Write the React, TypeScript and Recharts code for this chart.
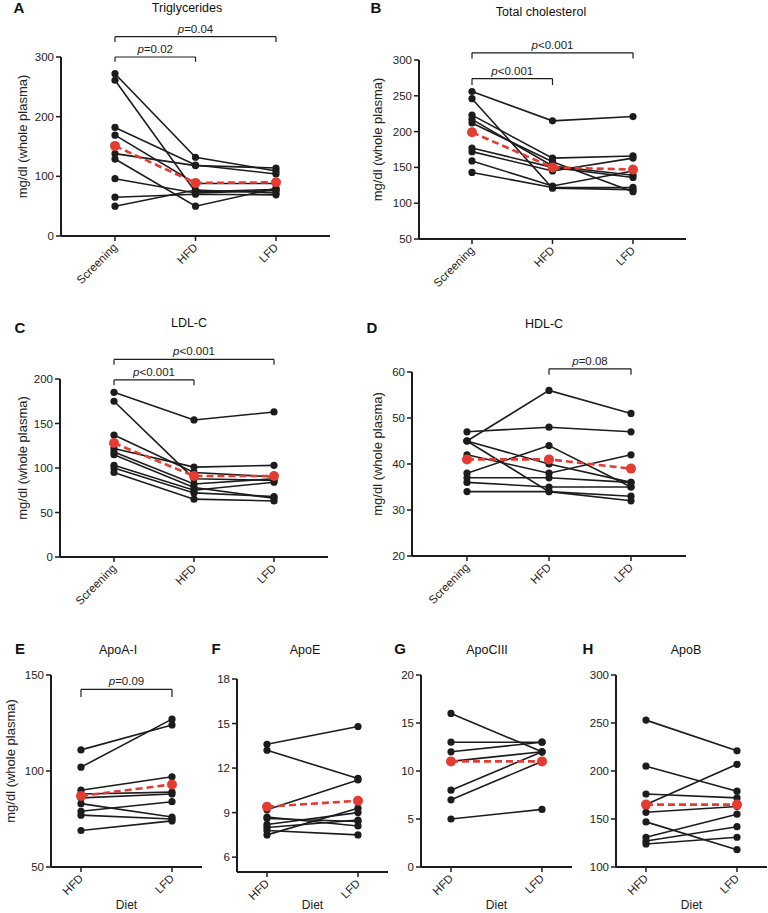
import React from 'react'
import { LineChart, Line, XAxis, YAxis, ReferenceLine } from 'recharts'

// x categories
const threeDiets = ['Screening', 'HFD', 'LFD']
const twoDiets = ['HFD', 'LFD']

// A  Triglycerides (one value per subject, same subject order in each list)
const tgScreening = [272, 261, 182, 169, 138, 129, 96, 65, 50]
const tgHFD = [132, 74, 119, 88, 118, 50, 72, 70, 77]
const tgLFD = [109, 78, 104, 88, 114, 80, 76, 69, 72]
const tgMean = [151, 89, 90]

// B  Total cholesterol
const tcScreening = [256, 246, 223, 217, 212, 177, 172, 159, 143]
const tcHFD = [215, 121, 163, 152, 158, 150, 145, 124, 122]
const tcLFD = [221, 119, 166, 139, 116, 136, 163, 145, 122]
const tcMean = [199, 150, 147]

// C  LDL-C
const ldlScreening = [185, 175, 137, 122, 118, 115, 103, 100, 95]
const ldlHFD = [154, 88, 95, 101, 82, 78, 75, 72, 65]
const ldlLFD = [163, 86, 90, 103, 88, 66, 84, 68, 63]
const ldlMean = [128, 91, 91]

// D  HDL-C
const hdlScreening = [45, 47, 38, 45, 45, 42, 37, 36, 34]
const hdlHFD = [56, 48, 44, 40, 34, 38, 37, 35, 34]
const hdlLFD = [51, 47, 35, 36, 33, 42, 36, 35, 32]
const hdlMean = [41, 41, 39]

// E  ApoA-I
const apoaHFD = [111, 102, 90, 88, 86, 83, 79, 77, 69]
const apoaLFD = [124, 127, 97, 89, 88, 76, 84, 75, 74]
const apoaMean = [87, 93]

// F  ApoE
const apoeHFD = [13.6, 13.2, 9.2, 8.7, 8.6, 8.2, 8.0, 7.8, 7.5]
const apoeLFD = [14.8, 11.3, 11.2, 8.1, 8.4, 9.0, 8.5, 7.5, 9.3]
const apoeMean = [9.4, 9.8]

// G  ApoCIII
const apoc3HFD = [16, 13, 12, 11, 8, 7, 5]
const apoc3LFD = [12, 13, 13, 12, 12, 11, 6]
const apoc3Mean = [11, 11]

// H  ApoB
const apobHFD = [253, 205, 176, 165, 157, 147, 131, 127, 124]
const apobLFD = [221, 179, 172, 207, 163, 118, 155, 142, 131]
const apobMean = [165, 165]

// y axis ticks
const tgTicks = [0, 100, 200, 300]
const tcTicks = [50, 100, 150, 200, 250, 300]
const ldlTicks = [0, 50, 100, 150, 200]
const hdlTicks = [20, 30, 40, 50, 60]
const apoaTicks = [50, 100, 150]
const apoeTicks = [6, 9, 12, 15, 18]
const apoc3Ticks = [0, 5, 10, 15, 20]
const apobTicks = [100, 150, 200, 250, 300]

type Bracket = { from: string; to: string; y: number; drop: number; text: string }

const tgBrackets: Bracket[] = [
  { from: 'Screening', to: 'HFD', y: 300, drop: 8, text: 'p=0.02' },
  { from: 'Screening', to: 'LFD', y: 334, drop: 9, text: 'p=0.04' },
]
const tcBrackets: Bracket[] = [
  { from: 'Screening', to: 'HFD', y: 274, drop: 9, text: 'p<0.001' },
  { from: 'Screening', to: 'LFD', y: 310, drop: 8, text: 'p<0.001' },
]
const ldlBrackets: Bracket[] = [
  { from: 'Screening', to: 'HFD', y: 199, drop: 6, text: 'p<0.001' },
  { from: 'Screening', to: 'LFD', y: 222, drop: 6, text: 'p<0.001' },
]
const hdlBrackets: Bracket[] = [{ from: 'HFD', to: 'LFD', y: 60.7, drop: 1.3, text: 'p=0.08' }]
const apoaBrackets: Bracket[] = [{ from: 'HFD', to: 'LFD', y: 142.5, drop: 4, text: 'p=0.09' }]

const INK = '#1c1c1c'
const RED = '#e43c33'
const FONT = '"Liberation Sans", Arial, Helvetica, sans-serif'

function toRows(cats: string[], cols: number[][], mean: number[]) {
  return cats.map((c, i) => {
    const row: any = { name: c, mean: mean[i] }
    cols[i].forEach((v, j) => {
      row['s' + j] = v
    })
    return row
  })
}

const AngledTick = (props: any) => {
  const { x, y, payload } = props
  const ax = x + 3
  const ay = y + 5
  return (
    <text x={ax} y={ay} transform={`rotate(-45 ${ax} ${ay})`} textAnchor="end" fontSize={11.5} fill="#222">
      {payload.value}
    </text>
  )
}

const PValue = (props: any) => {
  const { viewBox, text } = props
  if (!viewBox) return null
  const x = viewBox.x + (viewBox.width || 0) / 2
  const y = viewBox.y - 4
  return (
    <text x={x} y={y} textAnchor="middle" fontSize={11.5} fill="#222">
      <tspan fontStyle="italic">{text.slice(0, 1)}</tspan>
      <tspan>{text.slice(1)}</tspan>
    </text>
  )
}

const YTitle = (props: any) => {
  const { viewBox, dx, shift } = props
  if (!viewBox) return null
  const x = viewBox.x + dx
  const y = viewBox.y + viewBox.height / 2 + shift
  return (
    <text x={x} y={y} transform={`rotate(-90 ${x} ${y})`} textAnchor="middle" dominantBaseline="central" fontSize={13} fill="#222">
      mg/dl (whole plasma)
    </text>
  )
}

interface PanelProps {
  left: number
  top: number
  width: number
  height: number
  marginTop: number
  marginRight: number
  yWidth: number
  xHeight: number
  pad: number
  cats: string[]
  cols: number[][]
  mean: number[]
  domain: number[]
  ticks: number[]
  brackets?: Bracket[]
  yLabelX?: number
  diet?: boolean
}

const Panel = (p: PanelProps) => {
  const rows = toRows(p.cats, p.cols, p.mean)
  const n = p.cols[0].length
  const seg = { stroke: INK, strokeWidth: 1.2, ifOverflow: 'visible' as const }
  return (
    <div style={{ position: 'absolute', left: p.left, top: p.top }}>
      <LineChart
        width={p.width}
        height={p.height}
        data={rows}
        margin={{ top: p.marginTop, right: p.marginRight, left: 0, bottom: 0 }}
      >
        <XAxis
          dataKey="name"
          height={p.xHeight}
          padding={{ left: p.pad, right: p.pad }}
          interval={0}
          tick={<AngledTick />}
          tickSize={5}
          axisLine={{ stroke: INK, strokeWidth: 2 }}
          tickLine={{ stroke: INK, strokeWidth: 1.5 }}
          label={p.diet ? { value: 'Diet', position: 'insideBottom', offset: 4, fontSize: 12, fill: '#222' } : undefined}
        />
        <YAxis
          type="number"
          width={p.yWidth}
          domain={p.domain}
          ticks={p.ticks}
          interval={0}
          tickSize={5}
          tick={{ fontSize: 11.5, fill: '#222' }}
          axisLine={{ stroke: INK, strokeWidth: 2 }}
          tickLine={{ stroke: INK, strokeWidth: 1.5 }}
          label={p.yLabelX !== undefined ? <YTitle dx={p.yLabelX} shift={-10} /> : undefined}
        />
        {(p.brackets || []).flatMap((b, k) => [
          <ReferenceLine
            key={'h' + k}
            segment={[{ x: b.from, y: b.y }, { x: b.to, y: b.y }]}
            {...seg}
            label={<PValue text={b.text} />}
          />,
          <ReferenceLine key={'l' + k} segment={[{ x: b.from, y: b.y }, { x: b.from, y: b.y - b.drop }]} {...seg} />,
          <ReferenceLine key={'r' + k} segment={[{ x: b.to, y: b.y }, { x: b.to, y: b.y - b.drop }]} {...seg} />,
        ])}
        {Array.from({ length: n }, (_, j) => (
          <Line
            key={j}
            dataKey={'s' + j}
            stroke={INK}
            strokeWidth={1.6}
            dot={{ r: 3.6, fill: INK, stroke: INK, strokeWidth: 0 }}
            activeDot={false}
            isAnimationActive={false}
          />
        ))}
        <Line
          dataKey="mean"
          stroke={RED}
          strokeWidth={2.6}
          strokeDasharray="7 4"
          dot={{ r: 5, fill: RED, stroke: RED, strokeWidth: 0 }}
          activeDot={false}
          isAnimationActive={false}
        />
      </LineChart>
    </div>
  )
}

const Text = ({ x, y, children, bold, size }: any) => (
  <div
    style={{
      position: 'absolute',
      left: x,
      top: y,
      transform: 'translate(-50%, -50%)',
      whiteSpace: 'nowrap',
      fontSize: size,
      fontWeight: bold ? 700 : 400,
      color: '#111',
      lineHeight: 1,
    }}
  >
    {children}
  </div>
)

export default function App() {
  return (
    <div
      style={{
        position: 'absolute',
        left: 0,
        top: 0,
        width: 768,
        height: 913,
        background: '#fff',
        fontFamily: FONT,
        overflow: 'hidden',
      }}
    >
      <Panel left={0} top={0} width={384} height={300} marginTop={57} marginRight={54} yWidth={61} xHeight={64} pad={54}
        cats={threeDiets} cols={[tgScreening, tgHFD, tgLFD]} mean={tgMean} domain={[0, 300]} ticks={tgTicks}
        brackets={tgBrackets} yLabelX={22} />
      <Panel left={360} top={0} width={408} height={300} marginTop={60} marginRight={82} yWidth={59} xHeight={61} pad={53}
        cats={threeDiets} cols={[tcScreening, tcHFD, tcLFD]} mean={tcMean} domain={[50, 300]} ticks={tcTicks}
        brackets={tcBrackets} yLabelX={17} />
      <Panel left={0} top={300} width={384} height={320} marginTop={79} marginRight={56} yWidth={60} xHeight={63} pad={54}
        cats={threeDiets} cols={[ldlScreening, ldlHFD, ldlLFD]} mean={ldlMean} domain={[0, 200]} ticks={ldlTicks}
        brackets={ldlBrackets} yLabelX={22} />
      <Panel left={360} top={300} width={408} height={320} marginTop={72} marginRight={82} yWidth={52} xHeight={64} pad={55}
        cats={threeDiets} cols={[hdlScreening, hdlHFD, hdlLFD]} mean={hdlMean} domain={[20, 60]} ticks={hdlTicks}
        brackets={hdlBrackets} yLabelX={17} />
      <Panel left={0} top={600} width={210} height={313} marginTop={75} marginRight={8} yWidth={51} xHeight={46} pad={30}
        cats={twoDiets} cols={[apoaHFD, apoaLFD]} mean={apoaMean} domain={[50, 150]} ticks={apoaTicks}
        brackets={apoaBrackets} yLabelX={10} diet />
      <Panel left={200} top={600} width={195} height={313} marginTop={79} marginRight={7} yWidth={37} xHeight={41} pad={30}
        cats={twoDiets} cols={[apoeHFD, apoeLFD]} mean={apoeMean} domain={[5, 18]} ticks={apoeTicks} diet />
      <Panel left={384} top={600} width={195} height={313} marginTop={75} marginRight={7} yWidth={37} xHeight={46} pad={30}
        cats={twoDiets} cols={[apoc3HFD, apoc3LFD]} mean={apoc3Mean} domain={[0, 20]} ticks={apoc3Ticks} diet />
      <Panel left={578} top={600} width={190} height={313} marginTop={75} marginRight={1} yWidth={38} xHeight={46} pad={30}
        cats={twoDiets} cols={[apobHFD, apobLFD]} mean={apobMean} domain={[100, 300]} ticks={apobTicks} diet />

      <Text x={19} y={7} bold size={15}>A</Text>
      <Text x={187} y={8} size={12.5}>Triglycerides</Text>
      <Text x={376} y={7} bold size={15}>B</Text>
      <Text x={541} y={12} size={12.5}>Total cholesterol</Text>
      <Text x={20} y={327} bold size={15}>C</Text>
      <Text x={189} y={323} size={12.5}>LDL-C</Text>
      <Text x={372} y={327} bold size={15}>D</Text>
      <Text x={544} y={324} size={12.5}>HDL-C</Text>
      <Text x={20} y={648} bold size={15}>E</Text>
      <Text x={118} y={650} size={12.5}>ApoA-I</Text>
      <Text x={216} y={648} bold size={15}>F</Text>
      <Text x={305} y={650} size={12.5}>ApoE</Text>
      <Text x={400} y={648} bold size={15}>G</Text>
      <Text x={487} y={650} size={12.5}>ApoCIII</Text>
      <Text x={588} y={648} bold size={15}>H</Text>
      <Text x={686} y={650} size={12.5}>ApoB</Text>
    </div>
  )
}
